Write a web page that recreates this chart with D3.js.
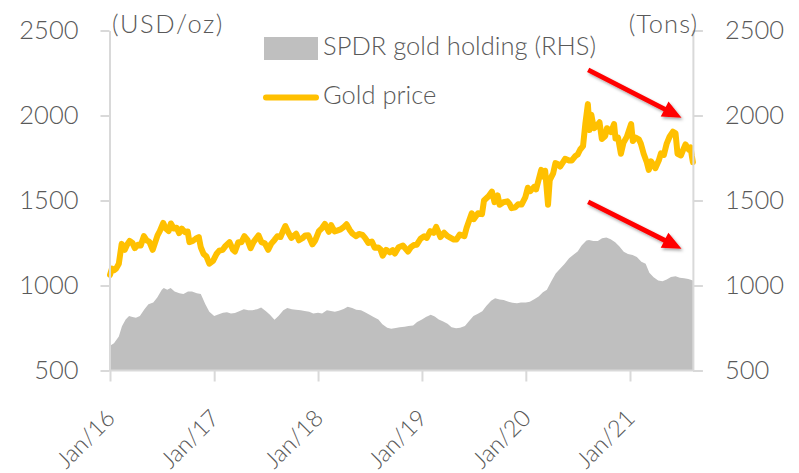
<!DOCTYPE html>
<html><head><meta charset="utf-8">
<script src="https://cdn.jsdelivr.net/npm/d3@7"></script>
<style>
html,body{margin:0;padding:0;background:#fff;}
svg{display:block;font-family:Lato,"Open Sans",sans-serif;}
</style></head>
<body><svg id="c" width="799" height="473"></svg>
<script>
const goldDates = ["2016-01-01","2016-01-08","2016-01-15","2016-01-22","2016-02-01","2016-02-11","2016-02-22","2016-03-01","2016-03-10","2016-03-20","2016-03-28","2016-04-08","2016-04-18","2016-04-29","2016-05-09","2016-05-18","2016-05-30","2016-06-06","2016-06-16","2016-06-24","2016-07-06","2016-07-15","2016-07-25","2016-08-02","2016-08-12","2016-08-22","2016-08-31","2016-09-09","2016-09-20","2016-09-30","2016-10-06","2016-10-18","2016-10-28","2016-11-08","2016-11-15","2016-11-25","2016-12-05","2016-12-15","2016-12-28",
"2017-01-09","2017-01-19","2017-01-31","2017-02-10","2017-02-24","2017-03-08","2017-03-15","2017-03-27","2017-04-07","2017-04-17","2017-04-28","2017-05-09","2017-05-19","2017-06-06","2017-06-16","2017-06-28","2017-07-10","2017-07-20","2017-08-01","2017-08-11","2017-08-22","2017-09-01","2017-09-08","2017-09-19","2017-09-29","2017-10-16","2017-10-26","2017-11-07","2017-11-17","2017-11-28","2017-12-12","2017-12-22",
"2018-01-04","2018-01-15","2018-01-25","2018-02-08","2018-02-16","2018-02-28","2018-03-09","2018-03-21","2018-04-02","2018-04-11","2018-04-23","2018-05-02","2018-05-15","2018-05-25","2018-06-06","2018-06-15","2018-06-27","2018-07-09","2018-07-19","2018-07-31","2018-08-08","2018-08-16","2018-08-28","2018-09-10","2018-09-20","2018-09-28","2018-10-11","2018-10-26","2018-11-13","2018-11-23","2018-12-04","2018-12-14","2018-12-27",
"2019-01-09","2019-01-18","2019-01-30","2019-02-11","2019-02-20","2019-03-07","2019-03-20","2019-04-01","2019-04-23","2019-05-02","2019-05-14","2019-05-30","2019-06-07","2019-06-25","2019-07-02","2019-07-17","2019-07-31","2019-08-07","2019-08-23","2019-09-04","2019-09-13","2019-09-24","2019-10-01","2019-10-14","2019-10-28","2019-11-05","2019-11-12","2019-11-25","2019-12-05","2019-12-17","2019-12-30",
"2020-01-08","2020-01-17","2020-01-30","2020-02-06","2020-02-24","2020-03-03","2020-03-09","2020-03-19","2020-03-25","2020-04-06","2020-04-14","2020-04-22","2020-05-01","2020-05-18","2020-06-01","2020-06-10","2020-06-22","2020-07-01","2020-07-10","2020-07-20","2020-07-28","2020-08-06","2020-08-12","2020-08-18","2020-08-27","2020-09-04","2020-09-16","2020-09-24","2020-10-06","2020-10-12","2020-10-26","2020-11-06","2020-11-11","2020-11-20","2020-11-30","2020-12-09","2020-12-21",
"2021-01-05","2021-01-11","2021-01-21","2021-02-01","2021-02-08","2021-02-18","2021-03-01","2021-03-08","2021-03-16","2021-03-31","2021-04-12","2021-04-20","2021-04-30","2021-05-10","2021-05-20","2021-06-01","2021-06-10","2021-06-17","2021-06-29","2021-07-06","2021-07-15","2021-07-26","2021-08-02","2021-08-06","2021-08-10"];
const goldPrice = [1062,1100,1090,1098,1128,1245,1210,1240,1262,1250,1220,1240,1235,1290,1265,1258,1210,1245,1295,1320,1368,1335,1320,1365,1335,1340,1308,1335,1314,1318,1255,1262,1275,1285,1225,1185,1170,1128,1145,
1185,1205,1210,1233,1255,1210,1200,1255,1255,1290,1268,1220,1255,1295,1255,1248,1210,1245,1268,1290,1285,1325,1350,1310,1280,1305,1266,1278,1294,1295,1242,1265,
1320,1338,1362,1316,1355,1318,1323,1330,1345,1360,1325,1305,1290,1303,1298,1280,1250,1258,1222,1224,1213,1175,1210,1195,1208,1188,1225,1235,1200,1225,1238,1240,1275,
1290,1280,1320,1310,1345,1285,1310,1290,1270,1270,1300,1290,1340,1425,1390,1425,1420,1500,1525,1552,1490,1530,1475,1490,1495,1480,1455,1460,1478,1476,1518,
1575,1555,1580,1565,1680,1640,1675,1475,1620,1660,1720,1715,1700,1745,1735,1735,1760,1770,1800,1820,1950,2067,1915,2005,1925,1935,1960,1862,1880,1925,1902,1950,1865,1870,1775,1840,1875,
1950,1850,1870,1860,1835,1775,1725,1680,1730,1690,1735,1778,1768,1835,1875,1905,1895,1775,1765,1795,1830,1800,1812,1765,1725];

const holdDates = ["2016-01-01","2016-01-15","2016-02-01","2016-02-12","2016-02-25","2016-03-08","2016-03-20","2016-04-01","2016-04-15","2016-05-01","2016-05-15","2016-06-01","2016-06-15","2016-07-01","2016-07-08","2016-07-20","2016-08-01","2016-08-15","2016-09-01","2016-09-15","2016-10-01","2016-10-15","2016-11-01","2016-11-15","2016-12-01","2016-12-15",
"2017-01-01","2017-01-15","2017-02-01","2017-02-15","2017-03-01","2017-03-15","2017-04-01","2017-04-15","2017-05-01","2017-05-15","2017-06-01","2017-06-15","2017-07-01","2017-07-15","2017-08-01","2017-08-15","2017-09-01","2017-09-15","2017-10-01","2017-10-15","2017-11-01","2017-11-15","2017-12-01","2017-12-15",
"2018-01-01","2018-01-15","2018-02-01","2018-02-15","2018-03-01","2018-03-15","2018-04-01","2018-04-15","2018-05-01","2018-05-15","2018-06-01","2018-06-15","2018-07-01","2018-07-15","2018-08-01","2018-08-15","2018-09-01","2018-09-15","2018-10-01","2018-10-15","2018-11-01","2018-11-15","2018-12-01","2018-12-15",
"2019-01-01","2019-01-15","2019-02-01","2019-02-15","2019-03-01","2019-03-15","2019-04-01","2019-04-15","2019-05-01","2019-05-15","2019-06-01","2019-06-15","2019-07-01","2019-07-15","2019-08-01","2019-08-15","2019-09-01","2019-09-15","2019-10-01","2019-10-15","2019-11-01","2019-11-15","2019-12-01","2019-12-15",
"2020-01-01","2020-01-15","2020-02-01","2020-02-15","2020-03-01","2020-03-15","2020-04-01","2020-04-15","2020-05-01","2020-05-15","2020-06-01","2020-06-15","2020-07-01","2020-07-15","2020-08-01","2020-08-10","2020-08-25","2020-09-10","2020-09-25","2020-10-10","2020-10-25","2020-11-10","2020-11-25","2020-12-10","2020-12-25",
"2021-01-10","2021-01-25","2021-02-10","2021-02-25","2021-03-10","2021-03-25","2021-04-10","2021-04-25","2021-05-10","2021-05-25","2021-06-10","2021-06-25","2021-07-10","2021-07-25","2021-08-10"];
const holdTons = [645,660,700,760,800,820,815,810,820,860,890,900,930,975,985,975,985,965,955,950,965,965,955,950,890,845,
820,830,840,842,835,838,850,860,855,855,860,870,850,830,798,820,855,868,860,858,855,850,845,835,
840,835,855,850,845,852,862,875,868,858,855,842,828,815,800,772,752,745,750,755,758,762,765,785,
800,815,828,818,800,790,775,755,748,752,762,790,820,832,848,880,910,925,918,915,905,898,895,900,
900,905,920,935,960,975,1030,1070,1100,1125,1160,1180,1200,1235,1265,1268,1262,1262,1278,1282,1272,1255,1230,1198,1185,
1180,1168,1140,1128,1075,1048,1030,1025,1035,1050,1055,1045,1042,1038,1030];

const yTicks = [500,1000,1500,2000,2500];
const xTickDates = ["2016-01-01","2017-01-01","2018-01-01","2019-01-01","2020-01-01","2021-01-01"];
const xTickLabels = ["Jan/16","Jan/17","Jan/18","Jan/19","Jan/20","Jan/21"];
const legendLabels = ["SPDR gold holding (RHS)","Gold price"];
const unitLabels = ["(USD/oz)","(Tons)"];
// annotation arrows in data space: [startDate, startValue, endDate, endValue]
const arrowDefs = [["2020-08-07",2269,"2021-07-01",1987],["2020-08-07",1492,"2021-07-01",1216]];

const parse = d3.utcParse("%Y-%m-%d");
const gold = goldDates.map((d,i)=>({date:parse(d), v:goldPrice[i]}));
const hold = holdDates.map((d,i)=>({date:parse(d), v:holdTons[i]}));

const svg = d3.select("#c");
const axisColor = "#d9d9d9", textColor = "#595959", FS = "25.5px";
const x = d3.scaleUtc().domain([parse("2016-01-01"), parse("2021-01-01")]).range([110, 630]);
const xEnd = x(parse(goldDates[goldDates.length-1]));
const y = d3.scaleLinear().domain([500,2500]).range([370.5,30.5]);
const yR = d3.scaleLinear().domain([500,2500]).range([370.5,30.5]);

// area
svg.append("path").datum(hold)
  .attr("fill","#bfbfbf")
  .attr("d", d3.area().x(d=>x(d.date)).y0(yR(500)).y1(d=>yR(d.v)));

// gold line
svg.append("path").datum(gold)
  .attr("fill","none").attr("stroke","#ffc000").attr("stroke-width",6)
  .attr("stroke-linejoin","round").attr("stroke-linecap","round")
  .attr("d", d3.line().x(d=>x(d.date)).y(d=>y(d.v)));

// axes
function styleAxis(g){
  g.select(".domain").attr("stroke",axisColor).attr("stroke-width",2);
  g.selectAll(".tick line").attr("stroke",axisColor).attr("stroke-width",2);
  g.selectAll(".tick text").attr("fill",textColor).style("font-size",FS).style("font-family","Lato, sans-serif").style("font-weight","300");
}
const gL = svg.append("g").attr("transform","translate(109.5,0)")
  .call(d3.axisLeft(y).tickValues(yTicks).tickFormat(d3.format("d")).tickSize(9).tickSizeOuter(0).tickPadding(22));
styleAxis(gL);
gL.selectAll(".tick text").attr("dy","0.3em");

const gR = svg.append("g").attr("transform",`translate(${xEnd},0)`)
  .call(d3.axisRight(yR).tickValues(yTicks).tickFormat(d3.format("d")).tickSize(10).tickSizeOuter(0).tickPadding(22));
styleAxis(gR);
gR.selectAll(".tick text").attr("dy","0.3em");

const gB = svg.append("g").attr("transform","translate(0,370.5)")
  .call(d3.axisBottom(x).tickValues(xTickDates.map(parse)).tickFormat((d,i)=>xTickLabels[i]).tickSize(11).tickSizeOuter(0));
styleAxis(gB);
gB.select(".domain").attr("d",`M109.5,0H${xEnd}`);
gB.selectAll(".tick text")
  .attr("text-anchor","end").attr("dy",null).attr("y",0)
  .style("font-size","23.5px")
  .attr("transform","translate(6,49) rotate(-45)");

// unit labels
svg.append("text").attr("x",112).attr("y",33).attr("fill",textColor)
  .style("font-size",FS).style("font-weight","300").style("letter-spacing","1.5px").text(unitLabels[0]);
svg.append("text").attr("x",698).attr("y",33).attr("text-anchor","end").attr("fill",textColor)
  .style("font-size",FS).style("font-weight","300").style("letter-spacing","1px").text(unitLabels[1]);

// legend
svg.append("rect").attr("x",264).attr("y",37).attr("width",54).attr("height",23).attr("fill","#bfbfbf");
svg.append("text").attr("x",323).attr("y",55).attr("fill",textColor)
  .style("font-size",FS).style("font-weight","300").text(legendLabels[0]);
svg.append("line").attr("x1",266).attr("x2",316).attr("y1",97.5).attr("y2",97.5)
  .attr("stroke","#ffc000").attr("stroke-width",6).attr("stroke-linecap","round");
svg.append("text").attr("x",323).attr("y",104).attr("fill",textColor)
  .style("font-size",FS).style("font-weight","300").text(legendLabels[1]);

// arrows
const defs = svg.append("defs");
const f = defs.append("filter").attr("id","sh").attr("x","-20%").attr("y","-20%").attr("width","140%").attr("height","140%");
f.append("feDropShadow").attr("dx",1.5).attr("dy",2).attr("stdDeviation",1.5).attr("flood-color","#000").attr("flood-opacity",0.35);
arrowDefs.forEach(a=>{
  const sx=x(parse(a[0])), sy=y(a[1]), ex=x(parse(a[2])), ey=y(a[3]);
  const dx=ex-sx, dy=ey-sy, L=Math.hypot(dx,dy), ux=dx/L, uy=dy/L, px=-uy, py=ux;
  const hl=19, hw=8.5, sw=2.4;
  const bx=ex-ux*hl, by=ey-uy*hl;
  const pts=[[sx+px*sw,sy+py*sw],[bx+px*sw,by+py*sw],[bx+px*hw,by+py*hw],[ex,ey],[bx-px*hw,by-py*hw],[bx-px*sw,by-py*sw],[sx-px*sw,sy-py*sw]];
  svg.append("path").attr("d","M"+pts.map(p=>p.join(",")).join("L")+"Z")
    .attr("fill","#ff0000").attr("filter","url(#sh)");
});
</script></body></html>
